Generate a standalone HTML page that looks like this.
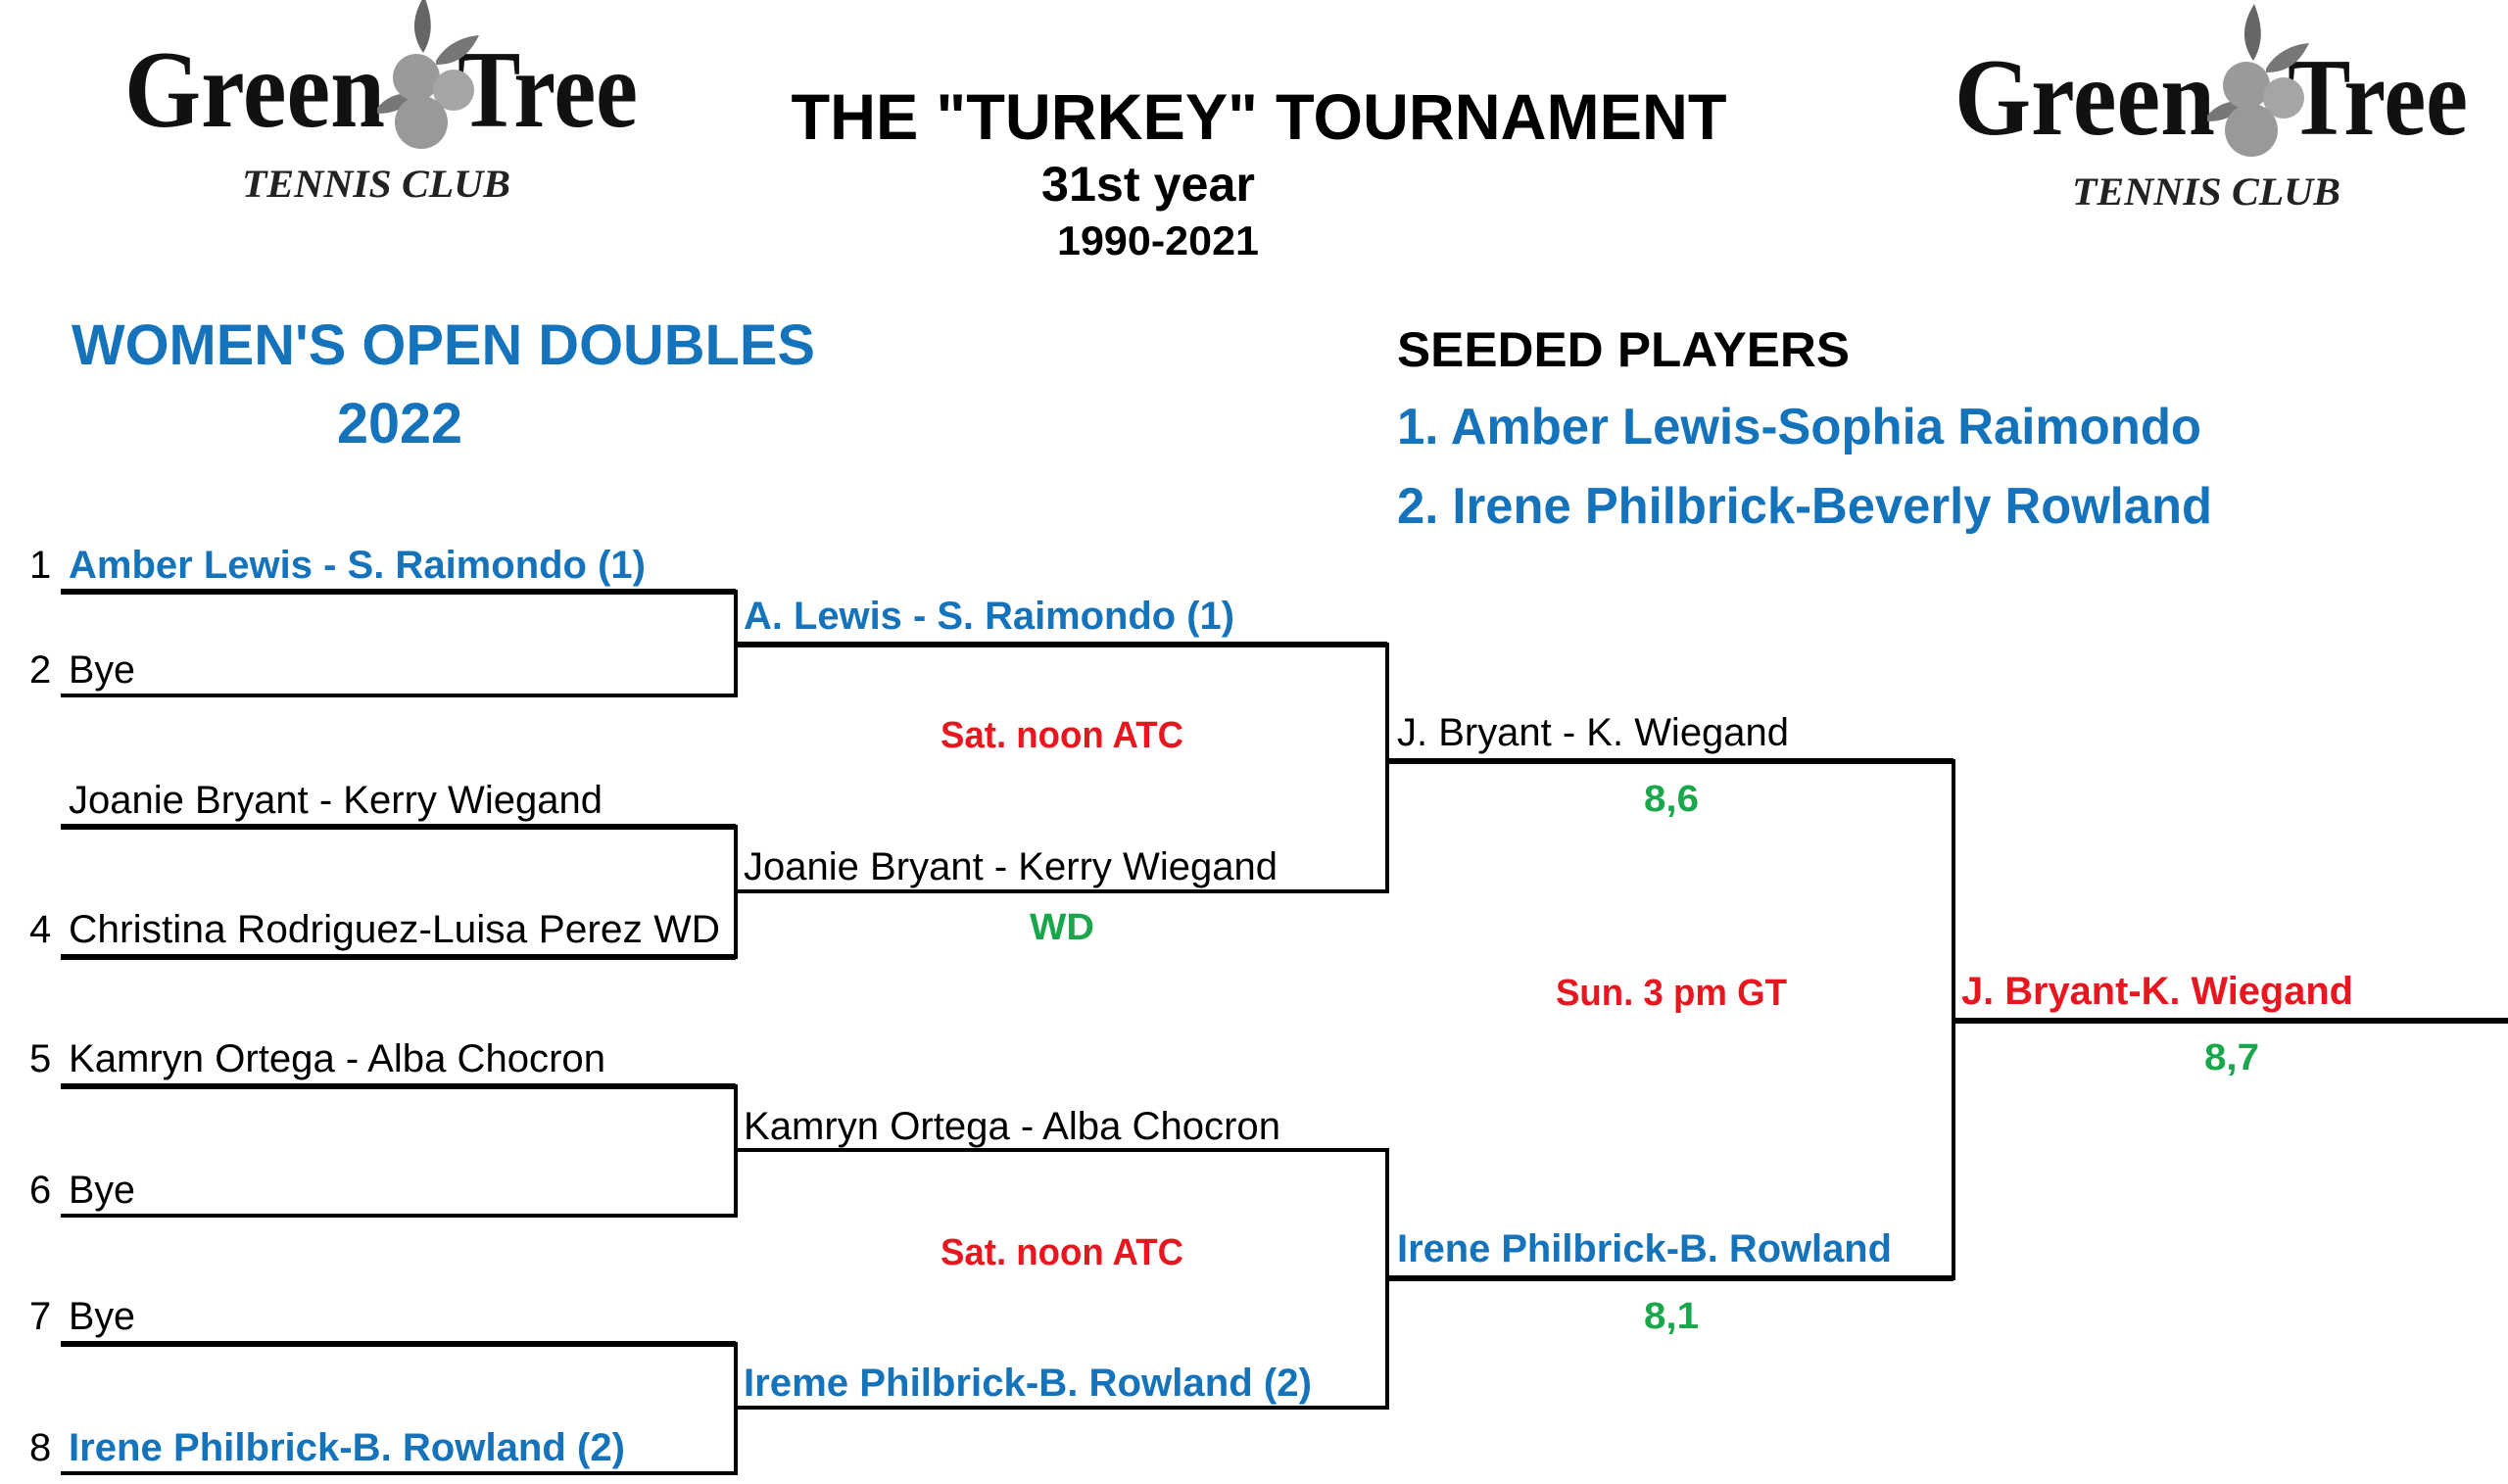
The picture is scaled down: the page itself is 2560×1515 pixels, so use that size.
<!DOCTYPE html>
<html><head><meta charset="utf-8"><style>
html,body{margin:0;padding:0;background:#fff;}
svg{display:block;}
.s{font-family:"Liberation Sans",Arial,sans-serif;}
.b{font-weight:bold;}
.blue{fill:#1473bb;}
.red{fill:#e8161e;}
.grn{fill:#1aa64a;}
.n{font-size:40px;}
.serif{font-family:"Liberation Serif","DejaVu Serif",serif;}
</style></head><body>
<svg width="2560" height="1515" viewBox="0 0 2560 1515" xmlns="http://www.w3.org/2000/svg">
<defs>
<g id="logo">
  <text class="serif" x="0" y="137" font-weight="bold" font-size="112" textLength="266" lengthAdjust="spacingAndGlyphs" fill="#111">Green</text>
  <text class="serif" x="340" y="137" font-weight="bold" font-size="112" textLength="184" lengthAdjust="spacingAndGlyphs" fill="#111">Tree</text>
  <path d="M306 4 C296 20 290 40 305 62 C318 40 312 20 306 4Z" fill="#666"/>
  <path d="M318 70 C330 50 350 45 362 44 C352 64 340 74 318 74Z" fill="#777"/>
  <path d="M258 118 C270 104 285 102 296 104 C288 118 276 124 258 124Z" fill="#777"/>
  <circle cx="298" cy="87" r="24" fill="#9a9a9a"/>
  <circle cx="336" cy="100" r="21" fill="#a5a5a5"/>
  <circle cx="303" cy="133" r="27" fill="#999"/>
  <text class="serif" x="120" y="209" font-weight="bold" font-style="italic" font-size="40" textLength="274" lengthAdjust="spacingAndGlyphs" fill="#222">TENNIS CLUB</text>
</g>
</defs>
<use href="#logo" x="127" y="-8"/>
<use href="#logo" x="1995" y="0"/>

<g class="s">
<text class="b" x="1285" y="142" font-size="66" text-anchor="middle" textLength="955" lengthAdjust="spacingAndGlyphs">THE "TURKEY" TOURNAMENT</text>
<text class="b" x="1172" y="205" font-size="50" text-anchor="middle" textLength="218" lengthAdjust="spacingAndGlyphs">31st year</text>
<text class="b" x="1182" y="260" font-size="42" text-anchor="middle" textLength="206" lengthAdjust="spacingAndGlyphs">1990-2021</text>

<text class="b blue" x="73" y="372" font-size="58" textLength="759" lengthAdjust="spacingAndGlyphs">WOMEN'S OPEN DOUBLES</text>
<text class="b blue" x="408" y="452" font-size="58" text-anchor="middle" textLength="128" lengthAdjust="spacingAndGlyphs">2022</text>

<text class="b" x="1426" y="374" font-size="50" textLength="462" lengthAdjust="spacingAndGlyphs">SEEDED PLAYERS</text>
<text class="b blue" x="1426" y="453" font-size="52" textLength="821" lengthAdjust="spacingAndGlyphs">1. Amber Lewis-Sophia Raimondo</text>
<text class="b blue" x="1426" y="534" font-size="52" textLength="832" lengthAdjust="spacingAndGlyphs">2. Irene Philbrick-Beverly Rowland</text>
</g>

<g stroke="#000" fill="none">
  <path d="M62 604 H751 V710 H62" stroke-width="4"/>
  <line x1="62" y1="604" x2="751" y2="604" stroke-width="6"/>
  <path d="M62 844 H751 V977 H62" stroke-width="4"/>
  <line x1="62" y1="844" x2="751" y2="844" stroke-width="6"/>
  <line x1="62" y1="977" x2="751" y2="977" stroke-width="6"/>
  <path d="M62 1109 H751 V1241 H62" stroke-width="4"/>
  <line x1="62" y1="1109" x2="751" y2="1109" stroke-width="6"/>
  <path d="M62 1372 H751 V1504 H62" stroke-width="4"/>
  <line x1="62" y1="1372" x2="751" y2="1372" stroke-width="6"/>
  <path d="M751 658 H1416 V910 H751" stroke-width="4"/>
  <line x1="751" y1="658" x2="1416" y2="658" stroke-width="6"/>
  <path d="M751 1174 H1416 V1437 H751" stroke-width="4"/>
  <path d="M1416 777 H1994 V1305 H1416" stroke-width="4"/>
  <line x1="1416" y1="777" x2="1994" y2="777" stroke-width="6"/>
  <line x1="1416" y1="1305" x2="1994" y2="1305" stroke-width="6"/>
  <line x1="1994" y1="1042" x2="2560" y2="1042" stroke-width="6"/>
</g>

<g class="s n">
<text x="30" y="590">1</text><text class="b blue" x="70" y="590" textLength="589" lengthAdjust="spacingAndGlyphs">Amber Lewis - S. Raimondo (1)</text>
<text x="30" y="697">2</text><text x="70" y="697" textLength="68" lengthAdjust="spacingAndGlyphs">Bye</text>
<text x="70" y="830" textLength="545" lengthAdjust="spacingAndGlyphs">Joanie Bryant - Kerry Wiegand</text>
<text x="30" y="962">4</text><text x="70" y="962" textLength="665" lengthAdjust="spacingAndGlyphs">Christina Rodriguez-Luisa Perez  WD</text>
<text x="30" y="1094">5</text><text x="70" y="1094" textLength="548" lengthAdjust="spacingAndGlyphs">Kamryn Ortega - Alba Chocron</text>
<text x="30" y="1228">6</text><text x="70" y="1228" textLength="68" lengthAdjust="spacingAndGlyphs">Bye</text>
<text x="30" y="1357">7</text><text x="70" y="1357" textLength="68" lengthAdjust="spacingAndGlyphs">Bye</text>
<text x="30" y="1491">8</text><text class="b blue" x="70" y="1491" textLength="568" lengthAdjust="spacingAndGlyphs">Irene Philbrick-B. Rowland (2)</text>

<text class="b blue" x="759" y="642" textLength="501" lengthAdjust="spacingAndGlyphs">A. Lewis - S. Raimondo (1)</text>
<text x="759" y="898" textLength="545" lengthAdjust="spacingAndGlyphs">Joanie Bryant - Kerry Wiegand</text>
<text x="759" y="1163" textLength="548" lengthAdjust="spacingAndGlyphs">Kamryn Ortega - Alba Chocron</text>
<text class="b blue" x="759" y="1425" textLength="580" lengthAdjust="spacingAndGlyphs">Ireme Philbrick-B. Rowland (2)</text>

<text x="1426" y="761" textLength="400" lengthAdjust="spacingAndGlyphs">J. Bryant - K. Wiegand</text>
<text class="b blue" x="1426" y="1288" textLength="505" lengthAdjust="spacingAndGlyphs">Irene Philbrick-B. Rowland</text>

<text class="b red" x="2002" y="1025" textLength="400" lengthAdjust="spacingAndGlyphs">J. Bryant-K. Wiegand</text>
</g>

<g class="s b" font-size="38" text-anchor="middle">
<text class="red" x="1084" y="763" textLength="248" lengthAdjust="spacingAndGlyphs">Sat. noon ATC</text>
<text class="grn" x="1084" y="959" textLength="66" lengthAdjust="spacingAndGlyphs">WD</text>
<text class="red" x="1084" y="1291" textLength="248" lengthAdjust="spacingAndGlyphs">Sat. noon ATC</text>
<text class="grn" x="1706" y="828" textLength="56" lengthAdjust="spacingAndGlyphs">8,6</text>
<text class="red" x="1706" y="1026" textLength="236" lengthAdjust="spacingAndGlyphs">Sun. 3 pm GT</text>
<text class="grn" x="1706" y="1356" textLength="56" lengthAdjust="spacingAndGlyphs">8,1</text>
<text class="grn" x="2278" y="1092" textLength="56" lengthAdjust="spacingAndGlyphs">8,7</text>
</g>
</svg>
</body></html>
